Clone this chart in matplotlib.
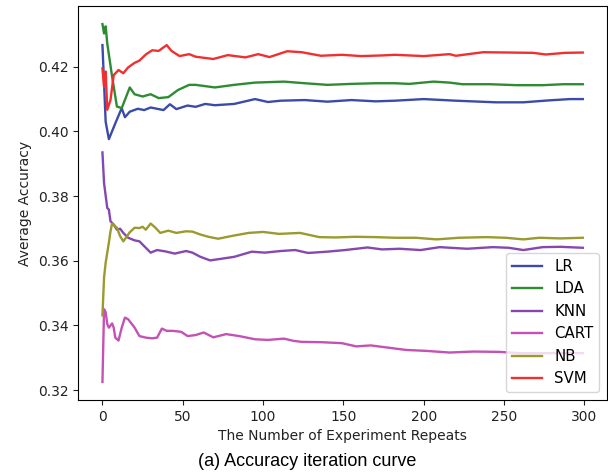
import matplotlib
matplotlib.use("Agg")
import matplotlib.pyplot as plt

# values (repeat index -> running mean accuracy)
lr_x = [0, 2, 4, 8, 12, 14, 17, 22, 26, 30, 34, 38, 42, 46, 53, 58, 64, 70, 82, 95,
        103, 111, 126, 140, 155, 170, 182, 200, 220, 245, 262, 278, 291, 299]
lr_y = [.4267, .4030, .3976, .4025, .4072, .4044, .4061, .4070, .4066, .4074, .4070,
        .4066, .4084, .4069, .4080, .4076, .4085, .4081, .4085, .4100, .4091, .4095,
        .4097, .4092, .4097, .4093, .4095, .4100, .4095, .4090, .4090, .4096, .4100, .4100]

lda_x = [0, 1, 2, 3, 6, 9, 12, 17, 20, 25, 30, 35, 41, 47, 54, 58, 70, 82, 95, 113,
         126, 140, 155, 170, 182, 191, 206, 216, 224, 241, 258, 274, 287, 299]
lda_y = [.4332, .4303, .4325, .4272, .4170, .4077, .4072, .4136, .4115, .4108, .4115,
         .4103, .4106, .4128, .4144, .4144, .4136, .4144, .4151, .4154, .4149, .4144,
         .4147, .4149, .4149, .4147, .4154, .4151, .4146, .4146, .4143, .4143, .4146, .4146]

knn_x = [0, 1, 3, 4, 5, 7, 9, 11, 13, 16, 20, 23, 26, 30, 34, 39, 45, 52, 56, 61, 67,
         74, 82, 93, 101, 111, 120, 128, 140, 151, 165, 174, 185, 198, 210, 227, 243,
         253, 262, 274, 285, 299]
knn_y = [.3935, .3840, .3763, .3758, .3722, .3712, .3696, .3699, .3686, .3671, .3663,
         .3660, .3645, .3625, .3633, .3629, .3622, .3630, .3625, .3612, .3601, .3606,
         .3612, .3628, .3625, .3630, .3633, .3624, .3628, .3633, .3641, .3635, .3637,
         .3633, .3642, .3637, .3642, .3640, .3633, .3642, .3643, .3640]

cart_x = [0, 1, 2, 3, 4, 6, 7, 8, 10, 12, 14, 16, 20, 23, 27, 31, 34, 37, 40, 44, 49,
          53, 58, 63, 69, 77, 85, 95, 103, 113, 119, 124, 136, 149, 158, 167, 178, 189,
          202, 216, 231, 247, 260, 273, 299]
cart_y = [.3225, .3450, .3441, .3404, .3393, .3406, .3393, .3362, .3353, .3393, .3424,
          .3419, .3393, .3367, .3362, .3360, .3362, .3390, .3383, .3383, .3380, .3367,
          .3370, .3378, .3363, .3373, .3367, .3357, .3355, .3359, .3352, .3349, .3348,
          .3345, .3335, .3338, .3331, .3324, .3321, .3316, .3319, .3318, .3314, .3314, .3314]

nb_x = [0, 1, 2, 4, 5, 6, 9, 11, 13, 15, 17, 20, 23, 25, 27, 30, 33, 36, 41, 46, 52,
        56, 61, 66, 72, 82, 91, 100, 110, 123, 135, 145, 157, 170, 182, 195, 208, 222,
        239, 251, 262, 272, 285, 299]
nb_y = [.3431, .3548, .3594, .3656, .3691, .3715, .3702, .3676, .3660, .3674, .3688,
        .3702, .3701, .3705, .3696, .3715, .3702, .3686, .3693, .3686, .3691, .3690,
        .3681, .3674, .3668, .3678, .3686, .3689, .3683, .3686, .3673, .3672, .3674,
        .3673, .3671, .3671, .3666, .3671, .3673, .3671, .3666, .3671, .3669, .3671]

svm_x = [0, 1, 2, 3, 5, 7, 10, 13, 16, 20, 23, 27, 31, 35, 40, 43, 48, 54, 58, 69, 78,
         89, 97, 104, 115, 124, 136, 149, 161, 174, 182, 200, 216, 220, 237, 253, 268,
         276, 288, 299]
svm_y = [.4195, .4138, .4185, .4067, .4097, .4174, .4190, .4180, .4198, .4212, .4219,
         .4238, .4251, .4249, .4267, .4249, .4233, .4239, .4231, .4224, .4236, .4229,
         .4239, .4230, .4248, .4245, .4234, .4237, .4233, .4235, .4237, .4233, .4239,
         .4234, .4245, .4244, .4243, .4238, .4243, .4244]

series = [
    ("LR",   lr_x,   lr_y,   "#3b4ba8"),
    ("LDA",  lda_x,  lda_y,  "#2e8b34"),
    ("KNN",  knn_x,  knn_y,  "#8548b0"),
    ("CART", cart_x, cart_y, "#c452b4"),
    ("NB",   nb_x,   nb_y,   "#9a9a2e"),
    ("SVM",  svm_x,  svm_y,  "#f03030"),
]

fig = plt.figure(figsize=(6.08, 4.76), dpi=100)
ax = fig.add_axes([0.129, 0.160, 0.869, 0.827])

for name, xs, ys, col in series:
    ax.plot(xs, ys, color=col, lw=1.7, label=name)

ax.set_yticks([0.32, 0.34, 0.36, 0.38, 0.40, 0.42])
ax.set_xticks([0, 50, 100, 150, 200, 250, 300])
ax.tick_params(labelsize=10, colors="#222222")
ax.set_xlabel("The Number of Experiment Repeats", fontsize=10, color="#222222")
ax.set_ylabel("Average Accuracy", fontsize=10, color="#222222")
ax.legend(loc="lower right", fontsize=10.8)

fig.text(0.505, 0.030, "(a) Accuracy iteration curve", ha="center", va="center",
         fontsize=13, family=["Liberation Sans Narrow", "Liberation Sans"])

plt.savefig("out.png", dpi=100)
plt.close()
